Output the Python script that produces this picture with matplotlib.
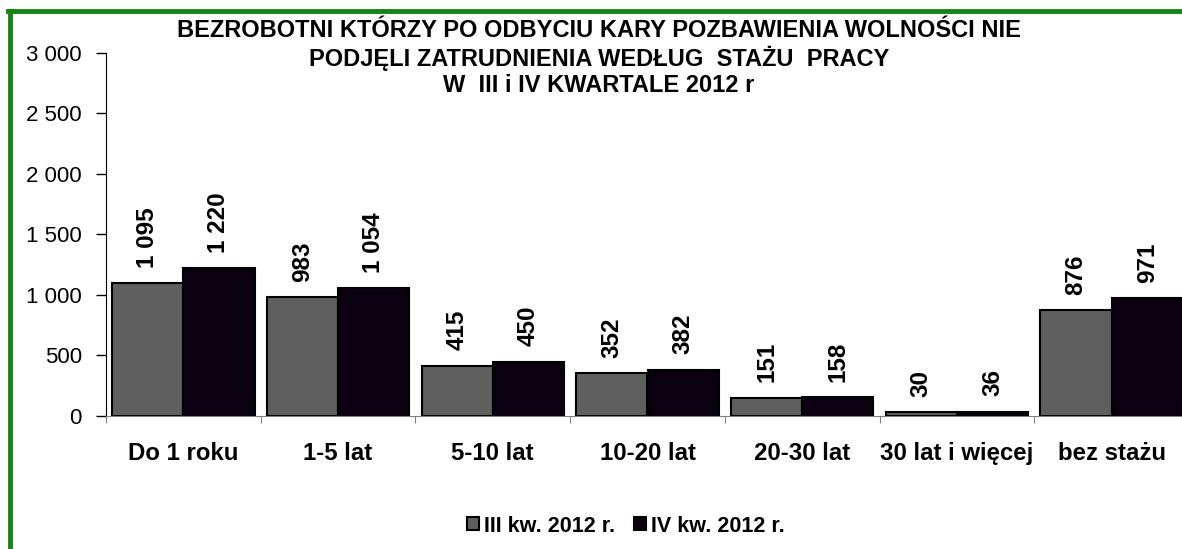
import numpy as np
import matplotlib.pyplot as plt
from matplotlib.lines import Line2D

plt.rcParams['font.family'] = ['Liberation Sans', 'DejaVu Sans']

# dane
kategorie = ['Do 1 roku', '1-5 lat', '5-10 lat', '10-20 lat', '20-30 lat', '30 lat i więcej', 'bez stażu']
kw3 = [1095, 983, 415, 352, 151, 30, 876]
kw4 = [1220, 1054, 450, 382, 158, 36, 971]
serie = ['III kw. 2012 r.', 'IV kw. 2012 r.']
y_ticks = [0, 500, 1000, 1500, 2000, 2500, 3000]

W, H = 1182, 549
fig = plt.figure(figsize=(W / 100, H / 100), dpi=100)
# os: lewa krawedz 106 px, zero 416 px, 3000 przy 52.7 px
ax = fig.add_axes([106 / W, 1 - 416 / H, 1083 / W, (416 - 52.7) / H])

x = np.arange(len(kategorie))
w = 0.46
b1 = ax.bar(x - w / 2, kw3, w, color='#5f5f5f', edgecolor='black', linewidth=1.5, label=serie[0])
b2 = ax.bar(x + w / 2, kw4, w, color='#0a0010', edgecolor='black', linewidth=1.5, label=serie[1])

def fmt(v):
    return f'{v:,}'.replace(',', ' ')

for bars, vals in ((b1, kw3), (b2, kw4)):
    for r, v in zip(bars, vals):
        ax.annotate(fmt(v), (r.get_x() + r.get_width() / 2, v), xytext=(0, 11),
                    textcoords='offset points', rotation=90, ha='center', va='bottom',
                    fontsize=17.5, fontweight='bold')

ax.set_xlim(-0.5, len(kategorie) - 0.5)
ax.set_ylim(0, 3000)
ax.set_yticks(y_ticks)
ax.set_yticklabels([fmt(t) for t in y_ticks], fontsize=16)
ax.tick_params(axis='y', direction='out', length=7, width=1, pad=10.5)

ax.set_xticks(np.arange(-0.5, len(kategorie), 1.0))
ax.set_xticklabels([])
ax.tick_params(axis='x', which='major', direction='out', length=5, color='#808080')
ax.set_xticks(x, minor=True)
ax.set_xticklabels(kategorie, minor=True, fontsize=17.3, fontweight='bold')
ax.tick_params(axis='x', which='minor', length=0, pad=19)

for s in ('top', 'right'):
    ax.spines[s].set_visible(False)
ax.spines['bottom'].set_color('#808080')
ax.spines['left'].set_color('black')

fig.text(599 / W, 1 - 58 / H,
         'BEZROBOTNI KTÓRZY PO ODBYCIU KARY POZBAWIENIA WOLNOŚCI NIE\n'
         'PODJĘLI ZATRUDNIENIA WEDŁUG  STAŻU  PRACY\n'
         'W  III i IV KWARTALE 2012 r',
         ha='center', va='center', fontsize=17, fontweight='bold', linespacing=1.17)

fig.legend(loc='center', bbox_to_anchor=(626 / W, 1 - 526 / H), ncol=2, frameon=False,
           prop={'size': 15.5, 'weight': 'bold'}, handlelength=0.55, handleheight=0.55,
           handletextpad=0.25, columnspacing=0.85)

# zielona ramka
fig.add_artist(Line2D([10 / W, 10 / W], [-0.1, 1 - 10.5 / H], color='#138713', lw=3.5,
                      transform=fig.transFigure))
fig.add_artist(Line2D([8.3 / W, 1.1], [1 - 10.5 / H, 1 - 10.5 / H], color='#138713', lw=3.5,
                      transform=fig.transFigure))

fig.savefig('out.png', dpi=100)
